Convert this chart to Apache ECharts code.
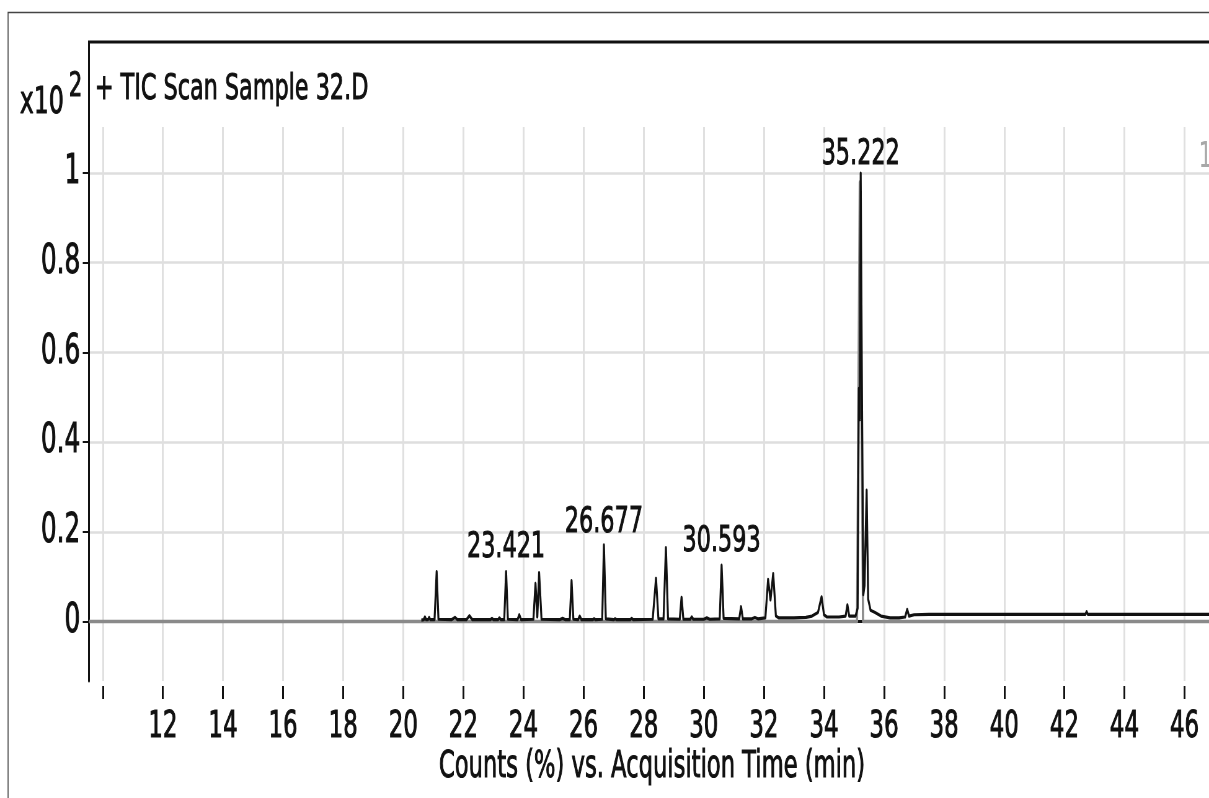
<!DOCTYPE html>
<html>
<head>
<meta charset="utf-8">
<title>TIC Scan Sample 32.D</title>
<script src="https://cdn.jsdelivr.net/npm/echarts@6.0.0/dist/echarts.min.js"></script>
<style>
  html, body { margin: 0; padding: 0; background: #ffffff; overflow: hidden; }
  /* the source picture is squeezed sideways, so draw wide and compress */
  #main { width: 1950px; height: 798px; transform: scaleX(0.62); transform-origin: 0 0; }
</style>
</head>
<body>
<div id="main"></div>
<script>
// x tick positions (min) and which of them get a label
const timeTicks = [10, 12, 14, 16, 18, 20, 22, 24, 26, 28, 30, 32, 34, 36, 38, 40, 42, 44, 46, 48];
const timeLabels = [12, 14, 16, 18, 20, 22, 24, 26, 28, 30, 32, 34, 36, 38, 40, 42, 44, 46, 48];
// y ticks, counts x10^2
const countTicks = [0, 0.2, 0.4, 0.6, 0.8, 1];

// TIC trace
const ticTime = [
  20.6, 20.68, 20.72, 20.76, 20.82, 20.86, 20.9, 21.04, 21.11, 21.17,
  21.6, 21.72, 21.8, 22.1, 22.2, 22.3, 22.9, 22.95, 23.0, 23.15, 23.2, 23.25,
  23.36, 23.421, 23.48, 23.8, 23.86, 23.92, 24.33, 24.4, 24.46, 24.52, 24.6,
  25.2, 25.3, 25.4, 25.54, 25.6, 25.66, 25.82, 25.87, 25.93, 26.3, 26.35, 26.4,
  26.62, 26.677, 26.74, 27.0, 27.05, 27.1, 27.55, 27.6, 27.65,
  28.3, 28.41, 28.49, 28.66, 28.74, 28.81, 29.2, 29.26, 29.32, 29.55, 29.6, 29.65,
  30.0, 30.1, 30.2, 30.53, 30.593, 30.66, 31.18, 31.24, 31.3, 31.6, 31.7, 31.8,
  32.05, 32.14, 32.22, 32.31, 32.4, 32.5, 33.0, 33.4, 33.6, 33.8, 33.92, 34.0, 34.1,
  34.5, 34.72, 34.78, 34.84, 35.05, 35.12, 35.16, 35.19, 35.222, 35.27, 35.31,
  35.35, 35.42, 35.47, 35.55, 35.7, 35.9, 36.2, 36.5, 36.7, 36.77, 36.83, 37.0,
  37.5, 38.2, 38.24, 38.28, 40.0, 42.7, 42.74, 42.78, 48
];
const ticCount = [
  0.003, 0.004, 0.010, 0.004, 0.004, 0.009, 0.004, 0.004, 0.111, 0.005,
  0.004, 0.009, 0.004, 0.004, 0.013, 0.004, 0.004, 0.007, 0.004, 0.004, 0.008, 0.004,
  0.004, 0.111, 0.005, 0.004, 0.015, 0.004, 0.005, 0.085, 0.010, 0.109, 0.005,
  0.004, 0.007, 0.004, 0.004, 0.091, 0.005, 0.004, 0.012, 0.004, 0.004, 0.006, 0.004,
  0.005, 0.171, 0.006, 0.004, 0.006, 0.004, 0.004, 0.007, 0.004,
  0.005, 0.096, 0.006, 0.006, 0.165, 0.006, 0.005, 0.054, 0.005, 0.005, 0.010, 0.005,
  0.005, 0.008, 0.005, 0.006, 0.126, 0.007, 0.006, 0.033, 0.006, 0.006, 0.009, 0.006,
  0.008, 0.094, 0.048, 0.107, 0.012, 0.008, 0.008, 0.009, 0.012, 0.020, 0.055, 0.015, 0.010,
  0.010, 0.012, 0.037, 0.012, 0.012, 0.030, 0.520, 0.450, 1.000, 0.450, 0.060,
  0.080, 0.293, 0.050, 0.025, 0.020, 0.012, 0.008, 0.008, 0.010, 0.027, 0.012, 0.015,
  0.016, 0.016, 0.020, 0.016, 0.016, 0.016, 0.022, 0.016, 0.016
];
// grey reference trace, flat except under the main peak
const refTime = [9.54, 35.1, 35.19, 35.3, 48];
const refCount = [0, 0, 0.98, 0, 0];

// labelled peaks
const peakTime = [23.421, 26.677, 30.593, 35.222];
const peakCount = [0.111, 0.171, 0.126, 1.0];
const peakText = ["23.421", "26.677", "30.593", "35.222"];
const peakGap = [6, 4, 5, 0];

const font = "DejaVu Sans";
const ink = "#111111";

let myChart = echarts.init(document.getElementById("main"));

let ticData = ticTime.map((t, i) => [t, ticCount[i]]);
let refData = refTime.map((t, i) => [t, refCount[i]]);
let peakData = peakTime.map((t, i) => ({
  value: [t, peakCount[i]],
  label: { formatter: peakText[i], distance: peakGap[i] },
}));

// a thin outline in the same colour makes the squeezed text a bit heavier
const heavy = { textBorderColor: ink, textBorderWidth: 1 };

let options = {
  backgroundColor: "#ffffff",
  animation: false,
  title: [
    {
      text: "+ TIC Scan Sample 32.D",
      left: 153,
      top: 72,
      padding: 0,
      textStyle: Object.assign({ fontFamily: font, fontSize: 36, fontWeight: "normal", color: ink }, heavy),
    },
    {
      text: "Counts (%) vs. Acquisition Time (min)",
      left: 708,
      top: 749,
      padding: 0,
      textStyle: Object.assign({ fontFamily: font, fontSize: 36.5, fontWeight: "normal", color: ink }, heavy),
    },
  ],
  graphic: [
    // outer frame
    {
      type: "polyline",
      shape: { points: [[13, 800], [13, 12.5], [1960, 12.5]] },
      style: { stroke: "#444", lineWidth: 1.6, fill: null },
      silent: true,
    },
    // upper part of the plot box
    {
      type: "polyline",
      shape: { points: [[143.5, 128], [143.5, 42], [1960, 42]] },
      style: { stroke: "#111", lineWidth: 3, fill: null },
      silent: true,
    },
    {
      type: "text",
      x: 32,
      y: 84,
      style: { text: "x10", fontFamily: font, fontSize: 38, fill: ink, stroke: ink, lineWidth: 1 },
    },
    {
      type: "text",
      x: 111,
      y: 70,
      style: { text: "2", fontFamily: font, fontSize: 34, fill: ink, stroke: ink, lineWidth: 1 },
    },
    {
      type: "text",
      x: 1933,
      y: 140,
      style: { text: "1", fontFamily: font, fontSize: 36, fill: "#a8a8a8" },
    },
  ],
  grid: {
    left: 143.5,
    top: 127,
    width: 1864,
    height: 554,
    outerBoundsMode: "none",
  },
  xAxis: [
    {
      type: "value",
      min: 9.54,
      max: 48,
      axisLine: { show: true, lineStyle: { color: "#111", width: 3 } },
      axisTick: { show: false, customValues: timeTicks },
      axisLabel: { show: false },
      splitLine: { show: true, lineStyle: { color: "#e0e0e0", width: 3 } },
    },
    {
      type: "value",
      min: 9.54,
      max: 48,
      position: "bottom",
      offset: 5,
      axisLine: { show: false },
      axisTick: {
        show: true,
        length: 13,
        customValues: timeTicks,
        lineStyle: { color: "#111", width: 3 },
      },
      axisLabel: Object.assign({
        customValues: timeLabels,
        margin: 23,
        fontFamily: font,
        fontSize: 37,
        color: ink,
      }, heavy),
      splitLine: { show: false },
    },
  ],
  yAxis: {
    type: "value",
    min: -0.1327,
    max: 1.1026,
    axisLine: { show: true, lineStyle: { color: "#111", width: 3 } },
    axisTick: {
      show: true,
      length: 10,
      customValues: countTicks,
      lineStyle: { color: "#111", width: 2 },
    },
    axisLabel: Object.assign({
      customValues: countTicks,
      margin: 14,
      fontFamily: font,
      fontSize: 40,
      color: ink,
    }, heavy),
    splitLine: { show: true, lineStyle: { color: "#dedede", width: 2.5 } },
  },
  series: [
    {
      name: "reference",
      type: "line",
      xAxisIndex: 0,
      data: refData,
      showSymbol: false,
      lineStyle: { color: "#8a8a8a", width: 3.5, join: "round" },
      z: 2,
    },
    {
      name: "TIC",
      type: "line",
      xAxisIndex: 0,
      data: ticData,
      showSymbol: false,
      lineStyle: { color: "#111", width: 3.2, join: "round" },
      z: 3,
    },
    {
      name: "peaks",
      type: "scatter",
      xAxisIndex: 0,
      data: peakData,
      symbolSize: 0,
      itemStyle: { opacity: 1 },
      label: Object.assign({
        show: true,
        position: "top",
        fontFamily: font,
        fontSize: 36,
        color: ink,
        opacity: 1,
      }, heavy),
      z: 4,
    },
  ],
};

myChart.setOption(options);
</script>
</body>
</html>
